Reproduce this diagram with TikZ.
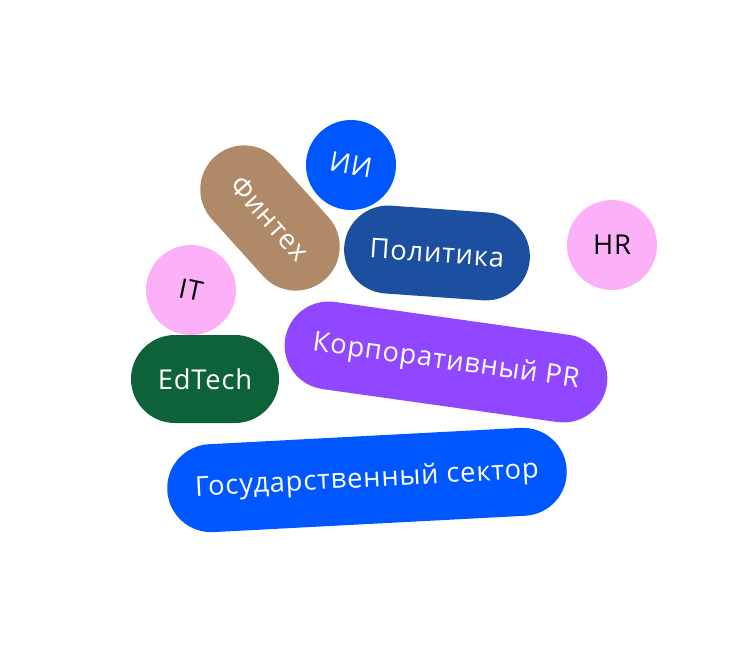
\documentclass[tikz,border=0pt]{standalone}
\usepackage{fontspec}
\setmainfont{Open Sans}[LetterSpace=3]
\definecolor{aiblue}{HTML}{0057FF}
\definecolor{fintech}{HTML}{B08A68}
\definecolor{politblue}{HTML}{1C4FA0}
\definecolor{hrpink}{HTML}{FBB0F7}
\definecolor{edgreen}{HTML}{0E6239}
\definecolor{prpurple}{HTML}{9146FF}

\begin{document}
\begin{tikzpicture}[
  x=0.75pt,y=-0.75pt,
  tag/.style={
    rounded corners=44pt*0.75,
    minimum height=88*0.75pt,
    inner sep=0pt,
    text=white,
    font=\fontsize{20.5}{23}\selectfont
  },
  blob/.style={
    circle,
    minimum size=90*0.75pt,
    inner sep=0pt,
    font=\fontsize{20.5}{23}\selectfont
  }]
  %
  \useasboundingbox (0,0) rectangle (732,660);
  \node[blob,fill=aiblue,text=white,rotate=-10] (ai) at (351,165) {ИИ};
  \node[tag,fill=fintech,minimum width=165*0.75pt,rotate=-48] (fintech) at (270,218) {Финтех};
  \node[tag,fill=politblue,minimum width=186*0.75pt,rotate=-4] (politics) at (437,253) {Политика};
  \node[blob,fill=hrpink] (hr) at (612,245) {HR};
  \node[blob,fill=hrpink,rotate=-12] (it) at (191,290) {IT};
  \node[tag,fill=edgreen,minimum width=148*0.75pt] (edtech) at (205,379) {EdTech};
  \node[tag,fill=prpurple,minimum width=325*0.75pt,rotate=-8] (corppr) at (446,362) {Корпоративный PR};
  \node[tag,fill=aiblue,minimum width=400*0.75pt,rotate=3] (gov) at (367,480) {Государственный сектор};
\end{tikzpicture}
\end{document}
